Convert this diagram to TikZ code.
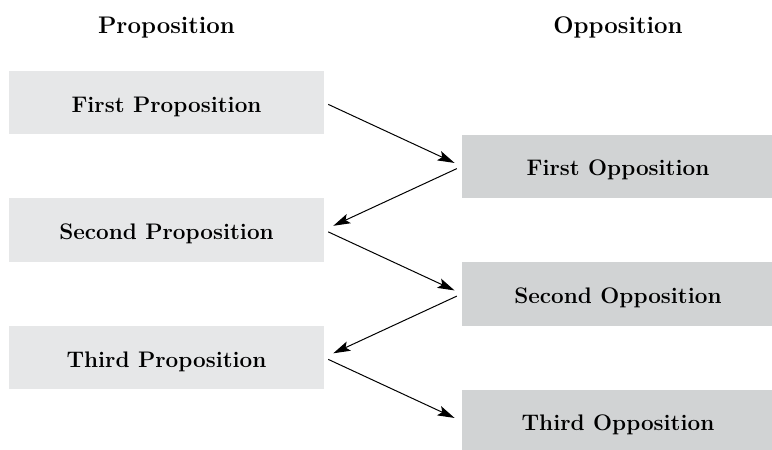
\documentclass[tikz,border=0pt]{standalone}
\usepackage{tikz}
\usetikzlibrary{arrows.meta, positioning}

\definecolor{propgray}{HTML}{E6E7E8}
\definecolor{oppgray}{HTML}{D1D3D4}

\begin{document}
\begin{tikzpicture}[x=1pt, y=1pt, node distance=127.5pt,
    head/.style={font=\fontsize{24}{28}\selectfont\bfseries, anchor=base},
    prop/.style={fill=propgray, minimum width=315pt, minimum height=63.5pt, inner sep=0pt,
        text height=19pt, text depth=0pt, font=\fontsize{22.5}{27}\selectfont\bfseries},
    opp/.style={prop, fill=oppgray, minimum width=312pt},
    fwd/.style={-{Stealth[length=17pt, width=10pt, inset=3.5pt]}, line width=1pt, shorten <=4.5pt, shorten >=8pt},
    back/.style={-{Stealth[length=17pt, width=10pt, inset=3.5pt]}, line width=1pt, shorten <=5.5pt, shorten >=10pt}]
    \useasboundingbox (0,0) rectangle (772,-450);
    \node[head] (ph) at (166.5,-33) {Proposition};
    \node[head] (oh) at (618,-33) {Opposition};
    \node[prop] (p1) at (166.5,-102.5) {First Proposition};
    \node[prop] (p2) [below of=p1] {Second Proposition};
    \node[prop] (p3) [below of=p2] {Third Proposition};
    \node[opp] (o1) at (618,-166.3) {First Opposition};
    \node[opp] (o2) [below of=o1] {Second Opposition};
    \node[opp] (o3) [below of=o2] {Third Opposition};
    \draw[fwd] (p1.east) -- (o1.west);
    \draw[back] (o1.west) -- (p2.east);
    \draw[fwd] (p2.east) -- (o2.west);
    \draw[back] (o2.west) -- (p3.east);
    \draw[fwd] (p3.east) -- (o3.west);
\end{tikzpicture}
\end{document}
